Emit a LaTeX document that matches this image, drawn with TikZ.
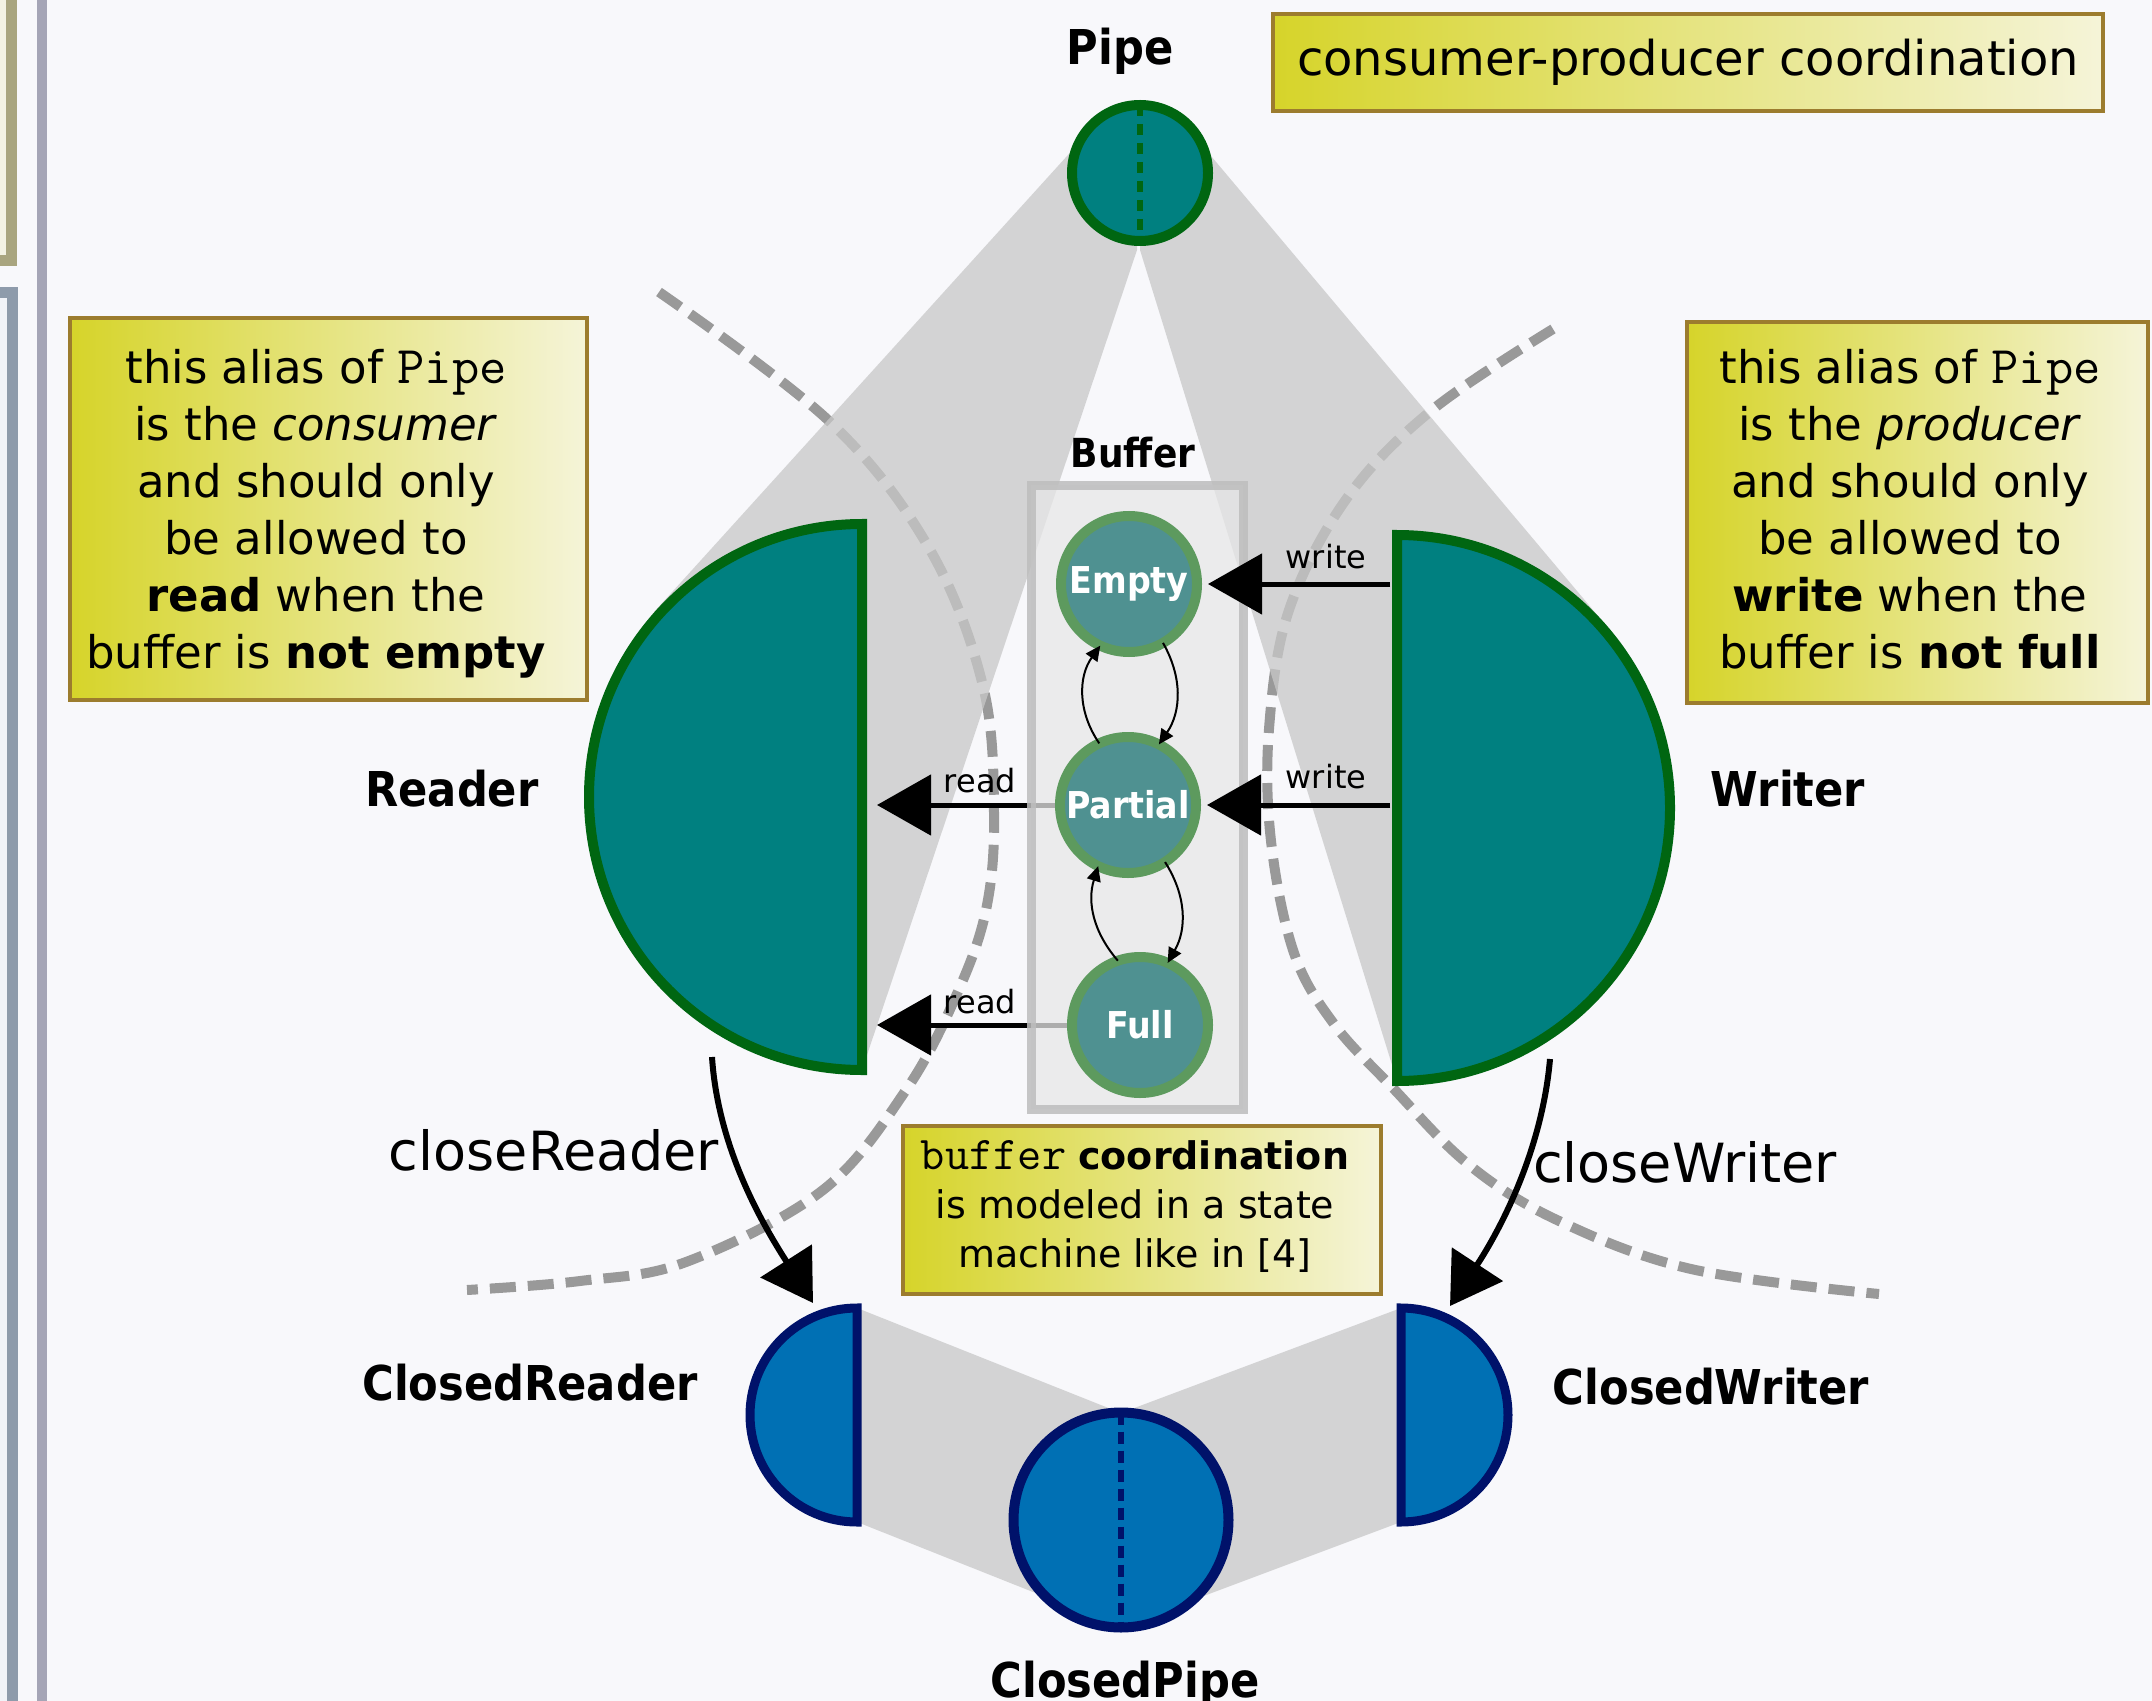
\documentclass[tikz,border=0pt]{standalone}
\usepackage{fontspec}
\setmainfont{DejaVu Sans}
\newfontfamily\condfont{DejaVu Sans Condensed}
\usetikzlibrary{arrows.meta}

\definecolor{pagebg}{HTML}{F8F8FB}
\definecolor{pipeteal}{HTML}{008080}
\definecolor{pipegreen}{HTML}{006611}
\definecolor{statefill}{HTML}{4F9191}
\definecolor{stateedge}{HTML}{5D9A5E}
\definecolor{closedblue}{HTML}{0070B4}
\definecolor{closednavy}{HTML}{00126A}
\definecolor{wedgegray}{HTML}{C8C8C8}
\definecolor{zonegray}{HTML}{999999}
\definecolor{notebrown}{HTML}{9C7C2E}
\definecolor{noteyellow}{HTML}{D6D42A}
\definecolor{notecream}{HTML}{F5F4D8}
\definecolor{boxgray}{HTML}{E7E7E7}
\definecolor{boxedge}{HTML}{BDBDBD}
\definecolor{khakiedge}{HTML}{A9A57F}
\definecolor{khakifill}{HTML}{F3F2E3}
\definecolor{slateedge}{HTML}{8E9BAB}
\definecolor{slatefill}{HTML}{F1F3F8}
\definecolor{railgray}{HTML}{A5A5B6}

\pgfdeclarelayer{under}
\pgfdeclarelayer{veil}
\pgfsetlayers{under,veil,main}

% monospaced identifiers inside the notes
\newcommand\codetxt[2]{{\ttfamily\fontsize{#1}{#1}\selectfont #2}}

\begin{document}
\begin{tikzpicture}[x=0.5pt,y=-0.5pt,
  every node/.style={inner sep=0pt, outer sep=0pt},
  biglabel/.style={anchor=base, font=\condfont\bfseries\fontsize{24pt}{28pt}\selectfont},
  pipering/.style={circle, minimum size=68pt, line width=5pt, draw=pipegreen, fill=pipeteal},
  closedring/.style={circle, minimum size=107.5pt, line width=5pt, draw=closednavy, fill=closedblue},
  stateball/.style={circle, minimum size=68pt, line width=5pt, draw=stateedge, fill=statefill,
    text=white, font=\condfont\bfseries\fontsize{18.5pt}{22pt}\selectfont},
  halfopen/.style={fill=pipeteal, draw=pipegreen, line width=5pt},
  halfclosed/.style={fill=closedblue, draw=closednavy, line width=4.5pt},
  wedge/.style={fill=wedgegray, fill opacity=0.76},
  zone/.style={draw=zonegray, line width=5pt, dash pattern=on 13pt off 6pt},
  bigarrow/.style={line width=2.5pt, -{Triangle[length=27pt,width=30pt]}},
  closearrow/.style={line width=3pt, -{Triangle[length=25pt,width=30pt]}},
  smallarrow/.style={line width=1pt, -{Triangle[length=7.5pt,width=7pt]}},
  notebox/.style={draw=notebrown, line width=2pt, left color=noteyellow, right color=notecream},
  notetext/.style={align=center, font=\fontsize{22.5pt}{28.5pt}\selectfont},
  actlabel/.style={anchor=base, font=\fontsize{16pt}{18pt}\selectfont},
  closelabel/.style={anchor=base, font=\fontsize{27pt}{32pt}\selectfont}]

\useasboundingbox (0,0) rectangle (2152,1701);
\clip (0,0) rectangle (2152,1701);

% ---- pipes and buffer states
\node[pipering] (pipe) at (1140,173) {};
\draw[pipegreen, line width=3pt, dash pattern=on 5.5pt off 4pt] (pipe.north) -- (pipe.south);
\node[closedring] (cpipe) at (1121,1520) {};
\draw[closednavy, line width=3pt, dash pattern=on 6pt off 3.5pt] (cpipe.north) -- (cpipe.south);

\node[stateball] (E) at (1129,584) {Empty};
\node[stateball] (P) at (1128,805) {Partial};
\node[stateball] (F) at (1140,1025) {Full};

\coordinate (rdIn) at (877,797);
\coordinate (wrIn) at (1390,808);
\coordinate (crFrom) at (712,1057);
\coordinate (crTo) at (813,1303);
\coordinate (cwFrom) at (1550,1059);
\coordinate (cwTo) at (1450,1306);

% ---- page, zones, cones and the two ends of each pipe
\begin{pgfonlayer}{under}
  \fill[pagebg] (0,0) rectangle (2152,1701);
  \filldraw[fill=khakifill, draw=khakiedge, line width=5.5pt] (-20,-20) rectangle (11.5,260.5);
  \filldraw[fill=slatefill, draw=slateedge, line width=5.5pt] (-20,292.5) rectangle (12.5,1730);
  \fill[railgray] (37,0) rectangle (47,1701);

  \draw[zone] plot[smooth, tension=0.6] coordinates {(659,292) (829,421) (929,548) (983,686)
    (994,813) (986,910) (956,996) (906,1090) (823,1190) (686,1262) (580,1281) (467,1290)};
  \draw[zone] plot[smooth, tension=0.6] coordinates {(1553,329) (1432,410) (1347,498) (1289,610)
    (1269,729) (1271,841) (1294,953) (1334,1024) (1392,1087) (1468,1164) (1557,1220) (1691,1269) (1879,1294)};

  \fill[wedge]
    (1091.5,129) -- (654,612) -- (862,797) -- (862,1070) -- (1137,250) -- (1140,173) -- cycle
    (1190,131) -- (1609,629) -- (1397,808) -- (1397,1081) -- (1140,250) -- (1140,173) -- cycle
    (857,1308) -- (1121,1413) -- (1121,1627) -- (857,1522) -- cycle
    (1401,1308) -- (1121,1413) -- (1121,1627) -- (1401,1522) -- cycle;

  \draw[halfopen] (862,524) arc[start angle=270, end angle=90, radius=273] -- cycle;
  \draw[halfopen] (1397,535) arc[start angle=-90, end angle=90, radius=273] -- cycle;
  \draw[halfclosed] (857,1308) arc[start angle=270, end angle=90, radius=107] -- cycle;
  \draw[halfclosed] (1401,1308) arc[start angle=-90, end angle=90, radius=107] -- cycle;

  \draw[bigarrow] (P) -- (P -| rdIn);
  \draw[bigarrow] (F) -- (F -| rdIn);
\end{pgfonlayer}

% ---- translucent buffer frame
\begin{pgfonlayer}{veil}
  \node[draw=boxedge, line width=4.5pt, fill=boxgray, fill opacity=0.75, draw opacity=0.85,
        minimum width=106pt, minimum height=312pt] (bufbox) at (1137,797) {};
\end{pgfonlayer}

% ---- state transitions
\draw[smallarrow] (E.-60) to[bend left=32] (P.63);
\draw[smallarrow] (P.115) to[bend left=35] (E.245);
\draw[smallarrow] (P.-57) to[bend left=31] (F.66);
\draw[smallarrow] (F.109) to[bend left=29] (P.244);

% ---- writes
\draw[bigarrow, shorten >=5.5pt] (E -| wrIn) -- (E);
\draw[bigarrow, shorten >=5.5pt] (P -| wrIn) -- (P);

% ---- closing
\draw[closearrow] (crFrom) .. controls (718,1150) and (765,1228) .. (crTo);
\draw[closearrow] (cwFrom) .. controls (1542,1151) and (1500,1230) .. (cwTo);

% ---- labels
\node[biglabel] (pipename) at (1120,65) {Pipe};
\node[anchor=base, font=\condfont\bfseries\fontsize{20pt}{24pt}\selectfont] (bufname) at (1133,467) {Buffer};
\node[biglabel] (rdname) at (452,806) {Reader};
\node[biglabel] (wrname) at (1788,806) {Writer};
\node[biglabel] (crname) at (530,1400) {ClosedReader};
\node[biglabel] (cwname) at (1711,1404) {ClosedWriter};
\node[biglabel] (cpname) at (1125,1697) {ClosedPipe};
\node[closelabel] (crlab) at (554,1170) {closeReader};
\node[closelabel] (cwlab) at (1685,1182) {closeWriter};
\node[actlabel] (rdlab1) at (980,792) {read};
\node[actlabel] (rdlab2) at (980,1013) {read};
\node[actlabel] (wrlab1) at (1326,568) {write};
\node[actlabel] (wrlab2) at (1326,788) {write};

% ---- notes
\node[notebox, minimum width=415pt, minimum height=48.5pt, font=\fontsize{24pt}{28pt}\selectfont]
  (topnote) at (1688,62.5) {consumer-producer coordination};

\node[notebox, minimum width=258.5pt, minimum height=191pt] (leftnote) at (328.5,509) {};
\node[notetext] (lefttext) at (316,514) {this alias of \codetxt{26.5pt}{Pipe}\\
  is the \textit{consumer}\\ and should only\\ be allowed to\\
  \textbf{read} when the\\ buffer is \textbf{not empty}};

\node[notebox, minimum width=230.5pt, minimum height=190.5pt] (rightnote) at (1917.5,512.5) {};
\node[notetext] (righttext) at (1910,509) {this alias of \codetxt{26.5pt}{Pipe}\\
  is the \textit{producer}\\ and should only\\ be allowed to\\
  \textbf{write} when the\\ buffer is \textbf{not full}};

\node[notebox, minimum width=239pt, minimum height=84pt] (bufnote) at (1142,1210) {};
\node[align=center, font=\fontsize{19pt}{24.5pt}\selectfont] (buftext) at (1135,1206)
  {\codetxt{23.5pt}{buffer} \textbf{coordination}\\ is modeled in a state\\ machine like in [4]};
\end{tikzpicture}
\end{document}
